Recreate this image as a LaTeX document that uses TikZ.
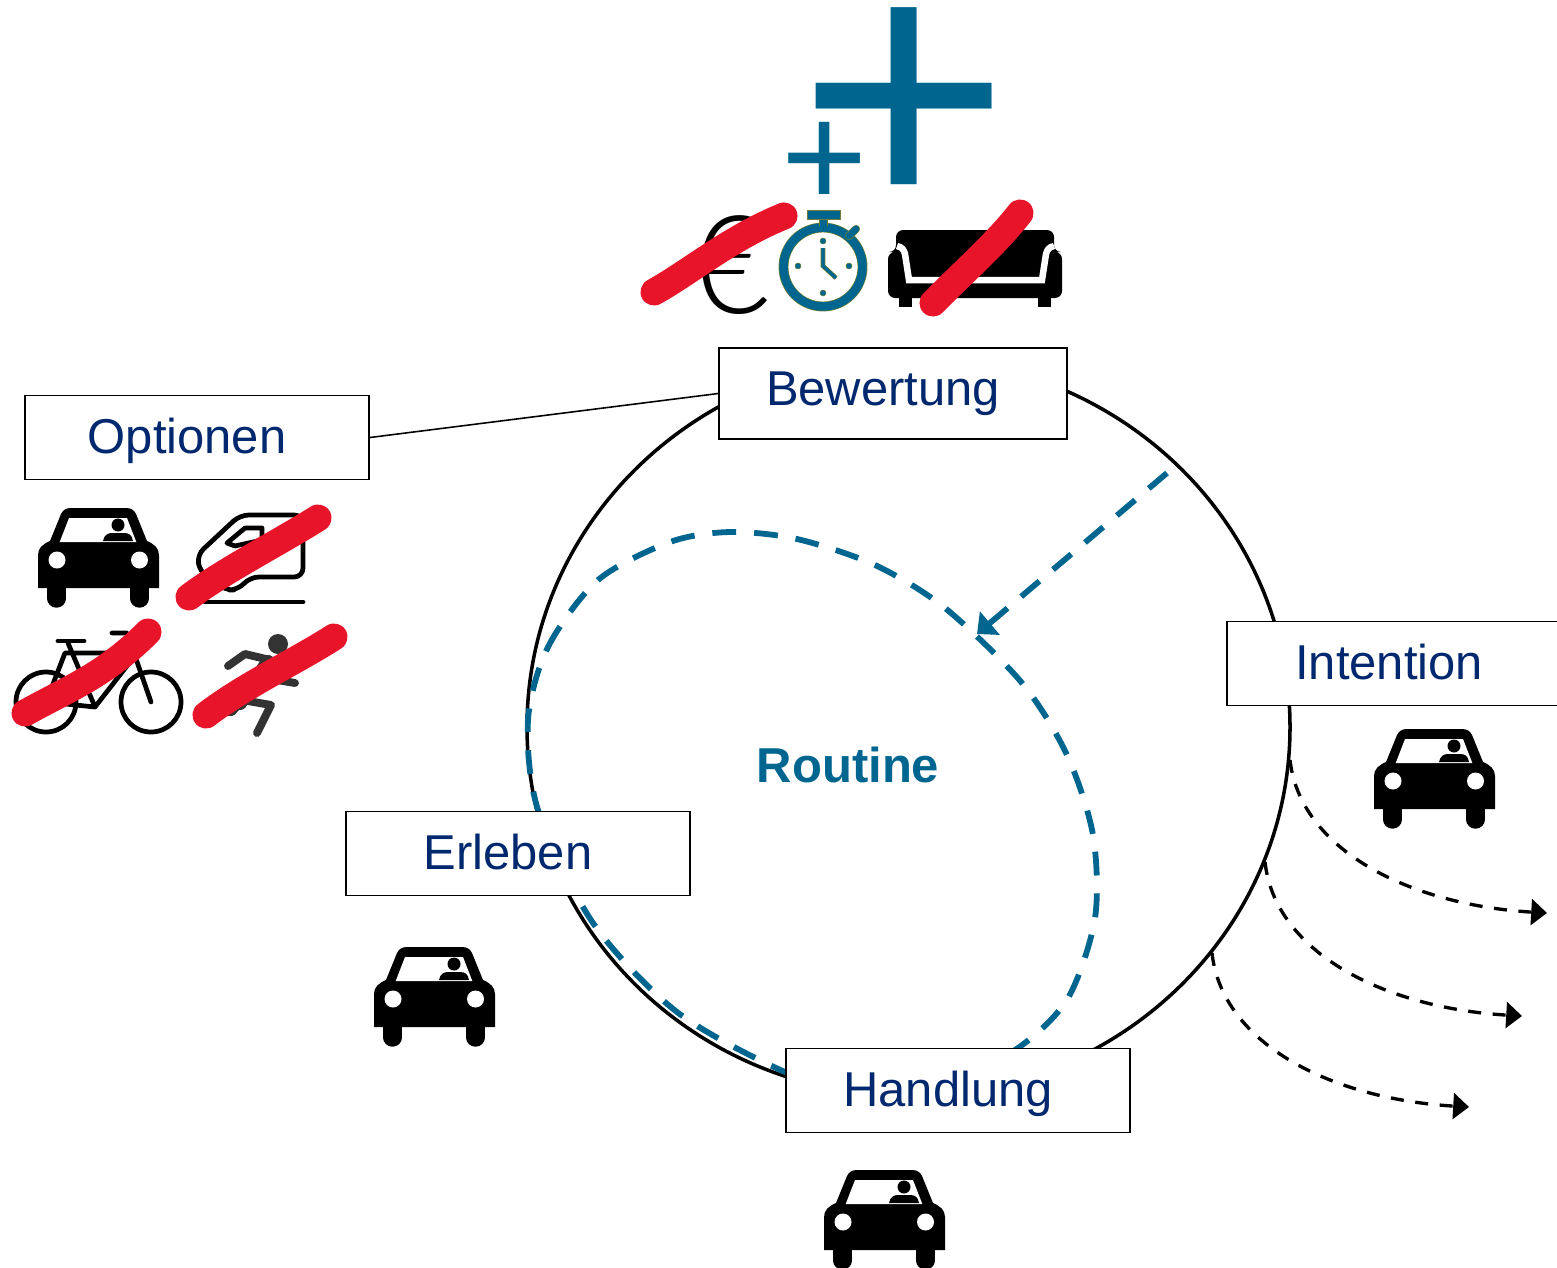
\documentclass[tikz,border=0pt]{standalone}
\usepackage{fontspec}
\usetikzlibrary{arrows.meta}
\setmainfont{Liberation Sans}
\newfontfamily\eurofont{Lato Light}
\definecolor{routineblue}{HTML}{00668F}
\definecolor{labelblue}{HTML}{00286E}
\definecolor{strikered}{HTML}{E8142A}
\definecolor{watcholive}{HTML}{6E7F35}
\definecolor{runnergrey}{HTML}{333333}
\tikzset{
    stagebox/.style={draw, fill=white, line width=.9pt, inner sep=0pt, minimum width=196pt, minimum height=47.6pt,
        text=labelblue, font=\fontsize{27.85}{30}\selectfont, text height=24pt, text depth=5.4pt,
        execute at end node={\hspace{11.3pt}}},
    routineline/.style={routineblue, line width=3.3pt, dash pattern=on 13.6pt off 10.2pt},
    exitline/.style={line width=1.9pt, dash pattern=on 7.4pt off 6.6pt, -{Triangle[length=9pt, width=14.7pt]}},
    strike/.style={strikered, line width=15.4pt, line cap=round},
    iconline/.style={line width=2.7pt, line join=round, line cap=round},
    watchpart/.style={draw=watcholive, double=routineblue, line width=.4pt},
    car/.pic={
        \fill (0,80) -- (0,47) .. controls (0,40) and (5,36) .. (12,33) -- (23,6) .. controls (25,2) and (28,0) .. (33,0)
            -- (88,0) .. controls (93,0) and (96,2) .. (98,6) -- (109,33) .. controls (116,36) and (121,40) .. (121,47)
            -- (121,80) -- cycle ;
        \draw [line width=10.5pt, line cap=round] (18.5,78) -- (18.5,90.5) ;
        \draw [line width=10.5pt, line cap=round] (101.5,78) -- (101.5,90.5) ;
        \fill [white] (21.7,34) -- (31,10) -- (89,10) -- (98.3,34) -- cycle ;
        \fill (80,17) circle (6.5) ;
        \fill (65,33) .. controls (66,27) and (70,25) .. (74,25) -- (86,25) .. controls (91,25) and (94,27) .. (95,33) -- cycle ;
        \fill [white] (19,52) circle (8.5) ;
        \fill [white] (101.5,52) circle (8.5) ;
    }
}
\begin{document}
\begin{tikzpicture}[x=0.02cm, y=-0.02cm]
    \useasboundingbox (0,0) rectangle (1557,1267) ;

    \draw [line width=2pt] (908.5,727) ellipse (381.5 and 369) ;
    \draw [routineline] plot [smooth cycle] coordinates {(528,720) (548,647) (598,580) (670,542) (730,532) (797,539) (875,565) (945,608) (1022,683) (1067,755) (1093,835) (1095,918) (1068,998) (1018,1048) (940,1088) (860,1092) (785,1072) (677,1012) (593,923) (538,810)} ;

    \coordinate (decision) at (1167,473) ;
    \coordinate (routinehit) at (977,634) ;
    \draw [routineblue, line width=3.3pt, dash pattern=on 13.6pt off 10.2pt, -{Triangle[length=9.6pt, width=17pt]}] (decision) -- (routinehit) ;

    \node [stagebox] (optionen) at (197,437.5) {Optionen} ;
    \node [stagebox, minimum width=198pt, minimum height=52pt, text depth=9.8pt] (bewertung) at (893,393.5) {Bewertung} ;
    \node [stagebox] (intention) at (1399,663.5) {Intention} ;
    \node [stagebox] (erleben) at (518,853.5) {Erleben} ;
    \node [stagebox] (handlung) at (958,1090.5) {Handlung} ;
    \draw [line width=.9pt] (optionen.east) -- (bewertung.west) ;

    \node [routineblue, font=\fontsize{27.9}{30}\bfseries] (routine) at (848,764.5) {Routine} ;

    \coordinate (exitA) at (1290,760) ;
    \coordinate (exitB) at (1265,862) ;
    \coordinate (exitC) at (1212,953) ;
    \coordinate (goalA) at (1547,913) ;
    \coordinate (goalB) at (1522,1016) ;
    \coordinate (goalC) at (1469,1107) ;
    \draw [exitline] (exitA) .. controls (1300,850) and (1410,905) .. (goalA) ;
    \draw [exitline] (exitB) .. controls (1275,953) and (1385,1008) .. (goalB) ;
    \draw [exitline] (exitC) .. controls (1222,1044) and (1332,1099) .. (goalC) ;

    \pic at (38,508) {car} ;
    \pic at (1374,729) {car} ;
    \pic at (374,947) {car} ;
    \pic at (824,1170) {car} ;

    \node [routineblue, anchor=base, inner sep=0pt, font=\fontsize{206}{206}\selectfont] (bigplus) at (904.5,216) {+} ;
    \node [routineblue, anchor=base, inner sep=0pt, font=\fontsize{84}{84}\selectfont] (smallplus) at (824.5,207.5) {+} ;
    \node [anchor=base, inner sep=0pt, font=\fontsize{78}{80}\eurofont] (euro) at (730,313.5) {€} ;

    \draw [watchpart, double distance=4.8pt] (823,267) circle (39.5) ;
    \draw [watchpart, double distance=3.8pt] (823.5,218) -- (823.5,226) ;
    \draw [draw=watcholive, fill=routineblue, line width=.4pt] (807,210) rectangle (840,219) ;
    \draw [watchpart, double distance=3.8pt, line cap=round] (849,236) -- (856,229) ;
    \draw [watchpart, double distance=1.8pt] (823,248) -- (823,266) -- (836,278) ;
    \foreach \dotx/\doty in {823/241, 823/293, 798/266, 849/266}
        \draw [draw=watcholive, fill=routineblue, line width=.3pt] (\dotx,\doty) circle (3) ;

    \fill [rounded corners=4pt] (888,298) -- (888,252) -- (896,252) -- (896,230) -- (1054,230) -- (1054,252) -- (1062,252) -- (1062,298) -- cycle ;
    \fill (899,296) rectangle (912,307) ;
    \fill (1038,296) rectangle (1051,307) ;
    \draw [white, line width=3.7pt] (897,246) .. controls (902,247) and (904,250) .. (905,254) -- (909,280) -- (1042,280) -- (1046,254) .. controls (1047,250) and (1049,247) .. (1054,246) ;

    \draw [iconline, rounded corners=5pt] (303,515) -- (240,515) -- (197,555) -- (200,572) -- (225,590) -- (238,590) -- (250,577) -- (303,577) -- cycle ;
    \draw [iconline] (227,543) -- (245,528) -- (262,528) -- (262,540) -- (235,546) -- cycle ;
    \draw [iconline] (205,602) -- (303,602) ;

    \draw [iconline] (46,702) circle (30) ;
    \draw [iconline] (151,702) circle (30) ;
    \draw [iconline] (58,641) -- (84,641) ;
    \draw [iconline] (68,643) -- (95,707) -- (137,653) -- (65,653) -- (46,702) -- (95,707) ;
    \draw [iconline] (112,633) -- (127,633) -- (151,702) ;

    \begin{scope}[runnergrey, line join=round, line cap=round]
        \fill (278,644) circle (10) ;
        \draw [line width=4.5pt] (228,666) -- (245,654) -- (270,660) ;
        \draw [line width=8pt] (268,662) -- (240,703) ;
        \draw [line width=4.5pt] (265,678) -- (295,683) ;
        \draw [line width=4.5pt] (242,700) -- (271,705) -- (257,733) ;
        \draw [line width=4.5pt] (240,703) -- (232,712) -- (222,712) ;
    \end{scope}

    \draw [strike] (654,292) .. controls (690,272) and (730,238) .. (784,216) ;
    \draw [strike] (933,303) .. controls (960,275) and (995,245) .. (1020,213) ;
    \draw [strike] (189,597) .. controls (225,570) and (280,542) .. (318,518) ;
    \draw [strike] (25,713) .. controls (70,688) and (105,675) .. (148,632) ;
    \draw [strike] (206,715) .. controls (245,685) and (295,662) .. (334,637) ;
\end{tikzpicture}
\end{document}
